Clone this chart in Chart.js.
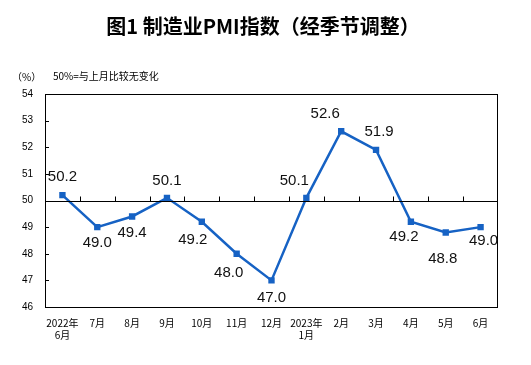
<!DOCTYPE html>
<html>
<head>
<meta charset="utf-8">
<script src="https://cdn.jsdelivr.net/npm/chart.js@4"></script>
<style>
  html, body { margin: 0; padding: 0; background: #fff; }
  #wrap { width: 531px; height: 365px; position: relative; }
</style>
</head>
<body>
<div id="wrap"><canvas id="pmiChart"></canvas></div>
<script>
// --- Data ---
const months = [['2022年', '6月'], '7月', '8月', '9月', '10月', '11月', '12月',
  ['2023年', '1月'], '2月', '3月', '4月', '5月', '6月'];
const pmiValues = [50.2, 49.0, 49.4, 50.1, 49.2, 48.0, 47.0, 50.1, 52.6, 51.9, 49.2, 48.8, 49.0];
const yTicks = [46, 47, 48, 49, 50, 51, 52, 53, 54];

// label placement relative to the point (dx, dy in px)
const labelOffsets = [
  [0, -18], [0, 16], [0, 16], [0, -17], [-9, 18], [-8, 19], [0, 17],
  [-12, -17], [-16, -17], [3, -18], [-7, 15], [-3, 26], [3, 14]
];

const lineColor = '#1662C4';

// --- Custom drawing: title, notes, frame, 50 baseline, labels ---
const decor = {
  id: 'decor',
  afterDraw(chart) {
    const { ctx, chartArea: a, scales } = chart;
    const y = scales.y, x = scales.x;
    ctx.save();

    // title
    ctx.fillStyle = '#000';
    ctx.font = 'bold 20px "Noto Sans CJK SC", sans-serif';
    ctx.textAlign = 'center';
    ctx.textBaseline = 'middle';
    ctx.fillText('图1 制造业PMI指数（经季节调整）', 263, 26);

    // notes
    ctx.font = '10px "Noto Sans CJK SC", sans-serif';
    ctx.textAlign = 'left';
    ctx.fillText('（%）', 12, 77);
    ctx.fillText('50%=与上月比较无变化', 53, 76);

    // frame
    ctx.strokeStyle = '#000';
    ctx.lineWidth = 1;
    ctx.strokeRect(Math.round(a.left) + 0.5, Math.round(a.top) + 0.5,
      Math.round(a.right - a.left) - 1, Math.round(a.bottom - a.top));

    // y ticks (inward)
    yTicks.forEach(v => {
      const py = Math.round(y.getPixelForValue(v)) + 0.5;
      ctx.beginPath();
      ctx.moveTo(a.left, py);
      ctx.lineTo(a.left + 4, py);
      ctx.stroke();
    });

    // 50 baseline with category ticks
    const by = Math.round(y.getPixelForValue(50)) + 0.5;
    ctx.beginPath();
    ctx.moveTo(a.left, by);
    ctx.lineTo(a.right, by);
    ctx.stroke();
    for (let i = 1; i < months.length; i++) {
      const px = Math.round((x.getPixelForValue(i - 1) + x.getPixelForValue(i)) / 2) + 0.5;
      ctx.beginPath();
      ctx.moveTo(px, by);
      ctx.lineTo(px, by - 5);
      ctx.stroke();
    }

    // data labels
    ctx.font = '15px "Liberation Sans", Arial, sans-serif';
    ctx.textAlign = 'center';
    ctx.textBaseline = 'middle';
    ctx.fillStyle = '#111';
    const meta = chart.getDatasetMeta(0);
    meta.data.forEach((pt, i) => {
      const [dx, dy] = labelOffsets[i];
      ctx.fillText(pmiValues[i].toFixed(1), pt.x + dx, pt.y + dy);
    });
    ctx.restore();
  }
};

const ctx = document.getElementById('pmiChart').getContext('2d');
new Chart(ctx, {
  type: 'line',
  data: {
    labels: months,
    datasets: [{
      data: pmiValues,
      borderColor: lineColor,
      backgroundColor: lineColor,
      borderWidth: 2.5,
      pointStyle: 'rect',
      pointRadius: 4.5,
      pointBorderWidth: 0,
      tension: 0
    }]
  },
  options: {
    responsive: true,
    maintainAspectRatio: false,
    animation: false,
    layout: { padding: { top: 94, right: 33, left: 0, bottom: 0 } },
    plugins: { legend: { display: false }, tooltip: { enabled: false }, title: { display: false } },
    scales: {
      x: {
        offset: true,
        grid: { display: false, drawTicks: false },
        border: { display: false },
        ticks: {
          color: '#000',
          font: { size: 10, family: '"Noto Sans CJK SC", sans-serif' },
          padding: 10,
          maxRotation: 0,
          autoSkip: false
        },
        afterFit(scale) { scale.height = 58; }
      },
      y: {
        min: 46,
        max: 54,
        grid: { display: false, drawTicks: false },
        border: { display: false },
        ticks: {
          stepSize: 1,
          color: '#000',
          padding: 12,
          font: { size: 10, family: '"Liberation Sans", Arial, sans-serif' }
        },
        afterFit(scale) { scale.width = 45; }
      }
    }
  },
  plugins: [decor]
});
</script>
</body>
</html>
